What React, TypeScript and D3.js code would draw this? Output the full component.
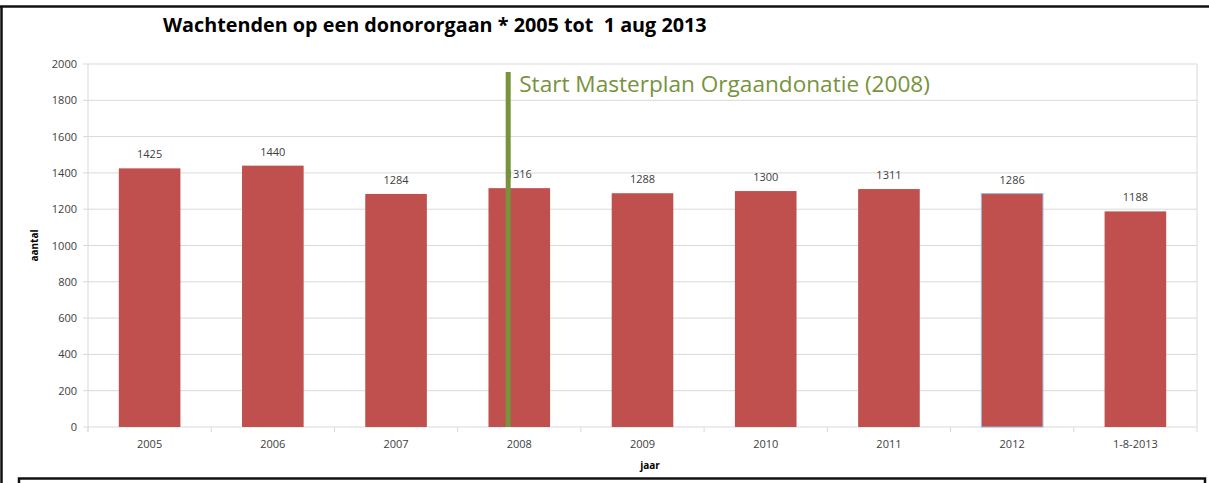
import React from "react";
import * as d3 from "d3";

const categories = ["2005", "2006", "2007", "2008", "2009", "2010", "2011", "2012", "1-8-2013"];
const values = [1425, 1440, 1284, 1316, 1288, 1300, 1311, 1286, 1188];
const yTicks = [0, 200, 400, 600, 800, 1000, 1200, 1400, 1600, 1800, 2000];
const title = "Wachtenden op een donororgaan * 2005 tot  1 aug 2013";
const markerCategory = "2008";
const markerLabel = "Start Masterplan Orgaandonatie (2008)";

const W = 1209;
const H = 483;
const left = 88;
const right = 1197;
const top = 64;
const bottom = 427;
const font = "'Open Sans', 'Liberation Sans', sans-serif";

export default function App() {
  const x = d3.scaleBand<string>().domain(categories).range([left, right]).paddingInner(0.5).paddingOuter(0.25);
  const xb = d3.scaleBand<string>().domain(categories).range([left, right]);
  const y = d3.scaleLinear().domain([0, 2000]).range([bottom, top]);
  const mx = (xb(markerCategory) as number) + xb.bandwidth() * 0.41;

  return (
    <svg width={W} height={H} style={{ position: "absolute", left: 0, top: 0, background: "#fff" }}>
      <rect x={0} y={0} width={W} height={H} fill="#fff" />
      <line x1={0} x2={W} y1={6.5} y2={6.5} stroke="#111" strokeWidth={2.5} />
      <line x1={1.5} x2={1.5} y1={6} y2={H} stroke="#111" strokeWidth={2.5} />
      <text x={163} y={32} fontFamily={font} fontWeight="bold" fontSize={19.8} fill="#000" style={{ whiteSpace: "pre" }}>{title}</text>
      {yTicks.map((t) => (
        <line key={t} x1={left - 5} x2={right} y1={y(t)} y2={y(t)} stroke="#d9d9d9" strokeWidth={1} />
      ))}
      <line x1={left} x2={left} y1={top} y2={bottom + 5} stroke="#d9d9d9" />
      <line x1={right} x2={right} y1={top} y2={bottom + 5} stroke="#d9d9d9" />
      {categories.map((c) => (
        <line key={c} x1={xb(c) as number} x2={xb(c) as number} y1={bottom} y2={bottom + 5} stroke="#d9d9d9" />
      ))}
      {yTicks.map((t) => (
        <text key={t} x={left - 11} y={y(t) + 4} textAnchor="end" fontFamily={font} fontSize={11} fill="#404040">{t}</text>
      ))}
      {categories.map((c, i) => (
        <rect
          key={c}
          x={x(c) as number}
          y={y(values[i])}
          width={x.bandwidth()}
          height={bottom - y(values[i])}
          fill="#C0504D"
          stroke={c === "2012" ? "#9db7e0" : "none"}
          strokeWidth={1}
        />
      ))}
      {categories.map((c, i) => (
        <text key={c} x={(x(c) as number) + x.bandwidth() / 2} y={y(values[i]) - 10} textAnchor="middle" fontFamily={font} fontSize={11} fill="#404040">{values[i]}</text>
      ))}
      {categories.map((c) => (
        <text key={c} x={(xb(c) as number) + xb.bandwidth() / 2} y={bottom + 21} textAnchor="middle" fontFamily={font} fontSize={11} fill="#404040">{c}</text>
      ))}
      <text x={650} y={469} textAnchor="middle" fontFamily={font} fontWeight="bold" fontSize={10} fill="#000">jaar</text>
      <text transform={`translate(38,${(top + bottom) / 2}) rotate(-90)`} textAnchor="middle" fontFamily={font} fontWeight="bold" fontSize={10} fill="#000">aantal</text>
      <line x1={mx} x2={mx} y1={72} y2={bottom} stroke="#77933C" strokeWidth={5} />
      <text x={mx + 11} y={92} fontFamily={font} fontSize={22.6} fill="#77933C">{markerLabel}</text>
      <rect x={19} y={478.5} width={1186} height={20} fill="#fff" stroke="#111" strokeWidth={2.5} />
    </svg>
  );
}
